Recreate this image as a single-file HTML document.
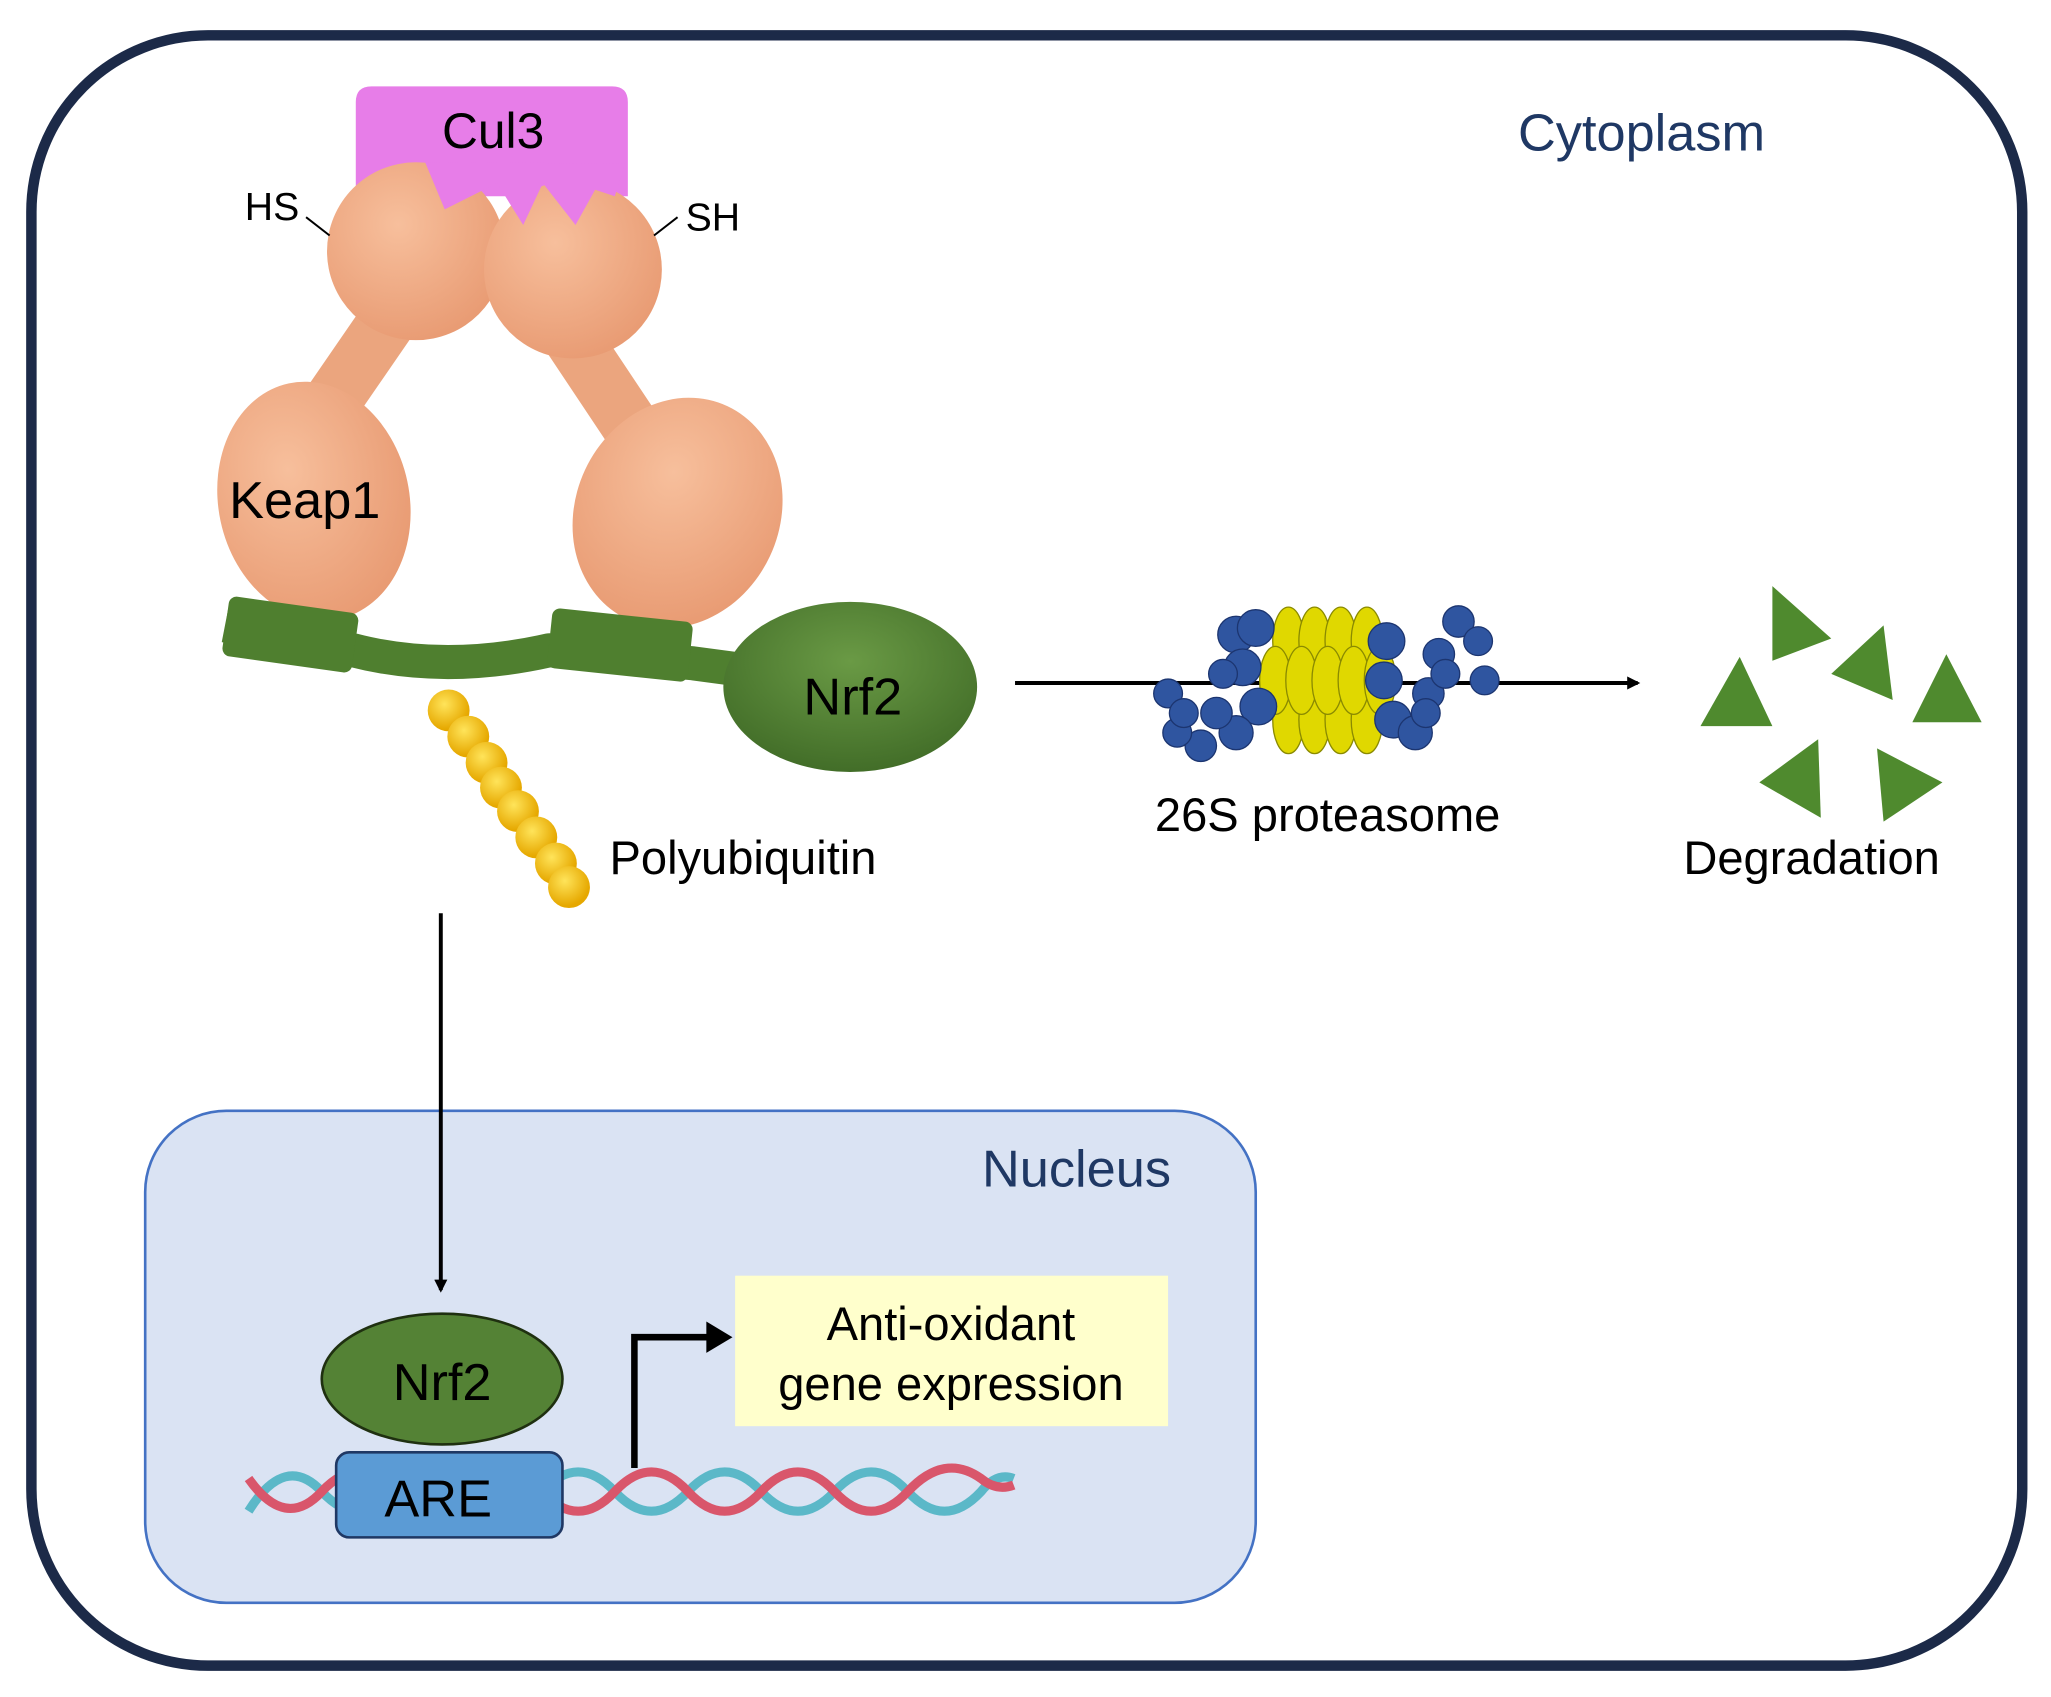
<!DOCTYPE html>
<html><head><meta charset="utf-8"><style>
html,body{margin:0;padding:0;background:#fff;width:2051px;height:1697px;overflow:hidden}
svg{display:block}
text{font-family:"Liberation Sans",sans-serif}
</style></head><body>
<svg width="2051" height="1697" viewBox="0 0 1568 1297" preserveAspectRatio="none" xmlns="http://www.w3.org/2000/svg">
<defs>
<radialGradient id="pk" cx="40%" cy="35%" r="70%"><stop offset="0" stop-color="#f7bf9c"/><stop offset="1" stop-color="#e89a72"/></radialGradient>
<radialGradient id="gr" cx="50%" cy="35%" r="70%"><stop offset="0" stop-color="#6a9a45"/><stop offset="1" stop-color="#3f6a26"/></radialGradient>
<radialGradient id="yb" cx="40%" cy="35%" r="60%"><stop offset="0" stop-color="#ffe45a"/><stop offset="1" stop-color="#e6a800"/></radialGradient>
<marker id="ah" markerWidth="10" markerHeight="10" refX="8" refY="5" orient="auto" markerUnits="userSpaceOnUse"><path d="M0,0 L10,5 L0,10 z" fill="#000"/></marker>
</defs>
<rect x="24" y="27" width="1522" height="1246" rx="135" fill="#fff" stroke="#1c2a48" stroke-width="8"/>
<text x="1255" y="115" font-size="40" fill="#1f3864" text-anchor="middle">Cytoplasm</text>

<path d="M272,150 L272,78 Q272,66 284,66 L468,66 Q480,66 480,78 L480,150 Z" fill="#e77de8"/>
<text x="377" y="113" font-size="38" text-anchor="middle">Cul3</text>
<path d="M300,240 L238,330" stroke="#eba57e" stroke-width="44" stroke-linecap="round"/>
<path d="M435,255 L495,345" stroke="#eba57e" stroke-width="44" stroke-linecap="round"/>
<circle cx="318" cy="192" r="68" fill="url(#pk)"/>
<circle cx="438" cy="206" r="68" fill="url(#pk)"/>
<path d="M325,124 L340,160 L380,140 L400,172 L415,140 L440,172 L455,145 L470,150 L478,125 Z" fill="#e77de8"/>
<ellipse cx="240" cy="383" rx="73" ry="92" transform="rotate(-12 240 383)" fill="url(#pk)"/>
<ellipse cx="518" cy="392" rx="78" ry="90" transform="rotate(25 518 392)" fill="url(#pk)"/>
<text x="233" y="396" font-size="40" text-anchor="middle">Keap1</text>
<text x="208" y="168" font-size="30" text-anchor="middle">HS</text>
<line x1="234" y1="166" x2="252" y2="180" stroke="#000" stroke-width="1.5"/>
<text x="545" y="176" font-size="30" text-anchor="middle">SH</text>
<line x1="518" y1="166" x2="500" y2="180" stroke="#000" stroke-width="1.5"/>

<path d="M172,478 L270,497 Q340,515 420,497 L530,507 L590,515" stroke="#4f7f2f" stroke-width="26" fill="none" stroke-linejoin="round"/>
<rect x="172" y="462" width="100" height="46" rx="6" fill="#4f7f2f" transform="rotate(8 222 485)"/>
<rect x="420" y="470" width="108" height="46" rx="6" fill="#4f7f2f" transform="rotate(6 474 493)"/>
<ellipse cx="650" cy="525" rx="97" ry="65" fill="url(#gr)"/>
<text x="652" y="546" font-size="40" text-anchor="middle">Nrf2</text>

<g fill="url(#yb)">
<circle cx="343" cy="543" r="16"/><circle cx="358" cy="563" r="16"/><circle cx="372" cy="583" r="16"/><circle cx="383" cy="602" r="16"/><circle cx="396" cy="620" r="16"/><circle cx="410" cy="640" r="16"/><circle cx="425" cy="660" r="16"/><circle cx="435" cy="678" r="16"/>
</g>
<text x="568" y="668" font-size="36" text-anchor="middle">Polyubiquitin</text>

<line x1="776" y1="522" x2="1252" y2="522" stroke="#000" stroke-width="3" marker-end="url(#ah)"/>
<g fill="#e0d800" stroke="#8a8a00" stroke-width="1">
<ellipse cx="985" cy="490" rx="12" ry="26"/><ellipse cx="1005" cy="490" rx="12" ry="26"/><ellipse cx="1025" cy="490" rx="12" ry="26"/><ellipse cx="1045" cy="490" rx="12" ry="26"/>
<ellipse cx="985" cy="550" rx="12" ry="26"/><ellipse cx="1005" cy="550" rx="12" ry="26"/><ellipse cx="1025" cy="550" rx="12" ry="26"/><ellipse cx="1045" cy="550" rx="12" ry="26"/>
<ellipse cx="975" cy="520" rx="12" ry="26"/><ellipse cx="995" cy="520" rx="12" ry="26"/><ellipse cx="1015" cy="520" rx="12" ry="26"/><ellipse cx="1035" cy="520" rx="12" ry="26"/><ellipse cx="1055" cy="520" rx="12" ry="26"/>
</g>
<g fill="#2f55a0" stroke="#1c3570" stroke-width="1">
<circle cx="945" cy="485" r="14"/><circle cx="960" cy="480" r="14"/><circle cx="950" cy="510" r="14"/><circle cx="962" cy="540" r="14"/><circle cx="945" cy="560" r="13"/><circle cx="930" cy="545" r="12"/><circle cx="918" cy="570" r="12"/><circle cx="900" cy="560" r="11"/><circle cx="893" cy="530" r="11"/><circle cx="935" cy="515" r="11"/><circle cx="905" cy="545" r="11"/>
<circle cx="1060" cy="490" r="14"/><circle cx="1058" cy="520" r="14"/><circle cx="1065" cy="550" r="14"/><circle cx="1082" cy="560" r="13"/><circle cx="1092" cy="530" r="12"/><circle cx="1100" cy="500" r="12"/><circle cx="1115" cy="475" r="12"/><circle cx="1130" cy="490" r="11"/><circle cx="1135" cy="520" r="11"/><circle cx="1090" cy="545" r="11"/><circle cx="1105" cy="515" r="11"/>
</g>
<text x="1015" y="635" font-size="36" text-anchor="middle">26S proteasome</text>

<g fill="#4f8a2e">
<polygon points="1355,448 1400,488 1355,505"/>
<polygon points="1300,555 1330,502 1355,555"/>
<polygon points="1400,515 1440,478 1447,535"/>
<polygon points="1462,552 1488,500 1515,552"/>
<polygon points="1345,598 1390,565 1392,625"/>
<polygon points="1435,572 1485,598 1440,628"/>
</g>
<text x="1385" y="668" font-size="36" text-anchor="middle">Degradation</text>

<rect x="111" y="849" width="849" height="376" rx="62" fill="#dae3f3" stroke="#4472c4" stroke-width="2"/>
<text x="823" y="907" font-size="40" fill="#1f3864" text-anchor="middle">Nucleus</text>
<line x1="337" y1="698" x2="337" y2="986" stroke="#000" stroke-width="3" marker-end="url(#ah)"/>
<rect x="562" y="975" width="331" height="115" fill="#ffffcc"/>
<text x="727" y="1024" font-size="36" text-anchor="middle">Anti-oxidant</text>
<text x="727" y="1070" font-size="36" text-anchor="middle">gene expression</text>

<path d="M190,1155 Q218,1110 246,1140 Q274,1170 302,1140 Q330,1110 358,1140 Q386,1170 414,1140 Q442,1110 470,1140 Q498,1170 526,1140 Q554,1110 582,1140 Q610,1170 638,1140 Q666,1110 694,1140 Q722,1170 750,1140 Q762,1125 775,1130" stroke="#5bb8c8" stroke-width="7" fill="none"/>
<path d="M190,1130 Q218,1170 246,1140 Q274,1110 302,1140 Q330,1170 358,1140 Q386,1110 414,1140 Q442,1170 470,1140 Q498,1110 526,1140 Q554,1170 582,1140 Q610,1110 638,1140 Q666,1170 694,1140 Q722,1110 750,1130 Q762,1140 775,1135" stroke="#d9566b" stroke-width="7" fill="none"/>
<rect x="257" y="1110" width="173" height="65" rx="10" fill="#5b9bd5" stroke="#1f3864" stroke-width="2"/>
<text x="335" y="1159" font-size="40" text-anchor="middle">ARE</text>
<ellipse cx="338" cy="1054" rx="92" ry="50" fill="#548235" stroke="#1f3010" stroke-width="2"/>
<text x="338" y="1070" font-size="40" text-anchor="middle">Nrf2</text>

<path d="M485,1122 L485,1022 L545,1022" stroke="#000" stroke-width="5" fill="none"/>
<path d="M540,1010 L560,1022 L540,1034 z" fill="#000"/>
</svg>
</body></html>
